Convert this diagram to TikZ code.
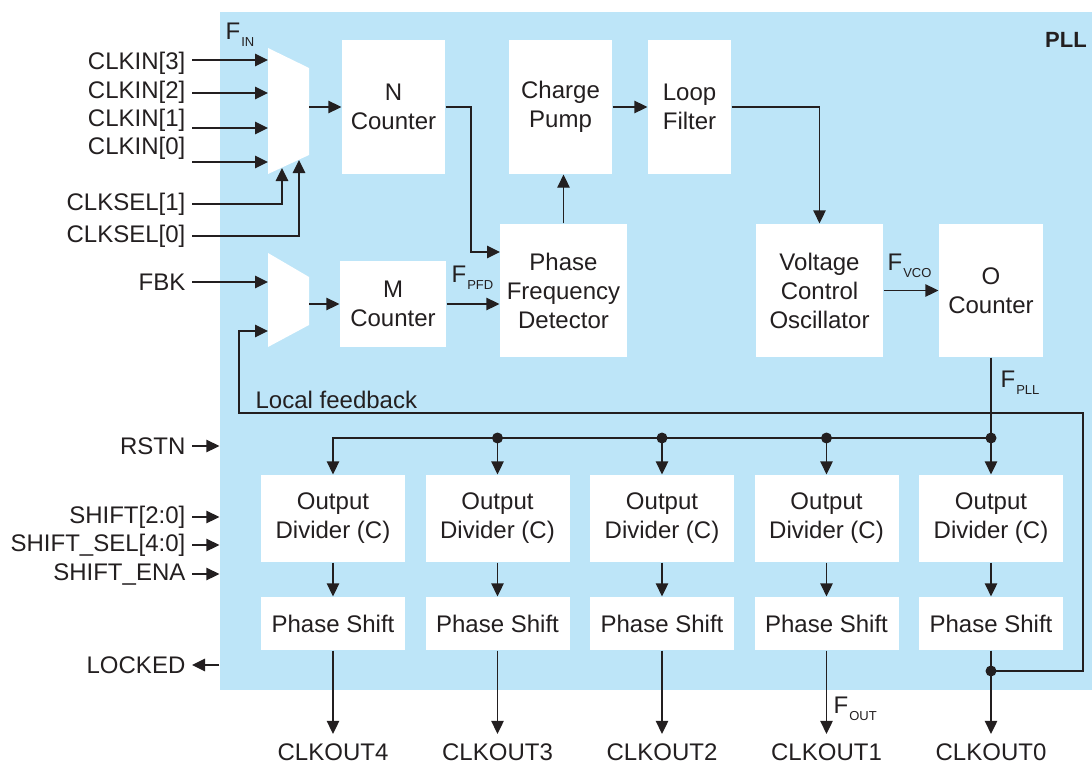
\documentclass[tikz,border=0pt]{standalone}
\usepackage{fontspec}
\setmainfont{Liberation Sans}
\usetikzlibrary{arrows.meta}
\definecolor{pllbg}{RGB}{189,229,248}
\definecolor{ink}{RGB}{35,31,32}
\newcommand{\lbl}{\fontsize{24}{29}\selectfont}
\newcommand{\freq}[1]{F\hspace{1pt}\raisebox{-7pt}{\fontsize{13}{13}\selectfont #1}}

\begin{document}
\begin{tikzpicture}[x=1pt,y=-1pt,line width=1.3pt,color=ink,font=\lbl,
    blk/.style={fill=white,inner sep=0pt,align=center},
    sig/.style={-{Triangle[length=13pt,width=12.5pt]}},
    pin/.style={anchor=east,inner xsep=6pt,inner ysep=0pt}]
        \useasboundingbox (0,0) rectangle (1092,765);

        % PLL block
        \node[fill=pllbg,inner sep=0pt,minimum width=872pt,minimum height=678pt] (pll) at (656,351) {};
        \node[font=\fontsize{22}{22}\selectfont\bfseries] at (1066,40) {PLL};

        % muxes
        \fill[white] (268,48) -- (309,68) -- (309,155) -- (268,174) -- cycle;
        \fill[white] (268,253) -- (309,277) -- (309,325) -- (268,347) -- cycle;
        \coordinate (mi3) at (268,60);
        \coordinate (mi2) at (268,93);
        \coordinate (mi1) at (268,128);
        \coordinate (mi0) at (268,162);
        \coordinate (ms1) at (282,168);
        \coordinate (ms0) at (299,160);
        \coordinate (mo1) at (309,107);
        \coordinate (m2a) at (268,282);
        \coordinate (m2b) at (268,331);
        \coordinate (mo2) at (309,304);

        % blocks
        \node[blk,minimum width=103pt,minimum height=134pt] (ncnt) at (393.5,107) {N\\Counter};
        \node[blk,minimum width=106pt,minimum height=86pt] (mcnt) at (393,304) {M\\Counter};
        \node[blk,minimum width=103pt,minimum height=134pt] (cp) at (560.5,107) {Charge\\Pump};
        \node[blk,minimum width=83pt,minimum height=134pt] (lf) at (689.5,107) {Loop\\Filter};
        \node[blk,minimum width=127pt,minimum height=133pt] (pfd) at (563.5,290.5) {Phase\\Frequency\\Detector};
        \node[blk,minimum width=127pt,minimum height=133pt] (vco) at (819.5,290.5) {Voltage\\Control\\Oscillator};
        \node[blk,minimum width=104pt,minimum height=133pt] (ocnt) at (991,290.5) {O\\Counter};

        % inputs
        \node[pin] (ck3) at (192,63) {CLKIN[3]};
        \node[pin] (ck2) at (192,92) {CLKIN[2]};
        \node[pin] (ck1) at (192,120) {CLKIN[1]};
        \node[pin] (ck0) at (192,148) {CLKIN[0]};
        \node[pin] (cs1) at (192,204) {CLKSEL[1]};
        \node[pin] (cs0) at (192,236) {CLKSEL[0]};
        \node[pin] (fbk) at (192,282) {FBK};
        \foreach \k in {0,...,3} { \draw[sig] (ck\k.east |- mi\k) -- (mi\k); }
        \draw[sig] (cs1.east) -| (ms1);
        \draw[sig] (cs0.east) -| (ms0);
        \draw[sig] (fbk) -- (m2a);

        % loop
        \coordinate (nbend) at (471,107);
        \coordinate (pfdn) at (500,252);
        \draw[sig] (mo1) -- (ncnt);
        \draw[sig] (mo2) -- (mcnt);
        \draw[sig] (ncnt) -- (nbend) |- (pfdn);
        \draw[sig] (mcnt) -- (mcnt -| pfd.west);
        \draw[sig] (pfd.north) -- (pfd.north |- cp.south);
        \draw[sig] (cp) -- (lf);
        \draw[sig] (lf) -| (vco);
        \draw[sig] (vco) -- (ocnt);

        % frequencies
        \node[anchor=base west,inner sep=0pt] at (225,40) {\freq{IN}};
        \node[anchor=base west,inner sep=0pt] at (451,282) {\freq{PFD}};
        \node[anchor=base west,inner sep=0pt] at (887,270) {\freq{VCO}};
        \node[anchor=base west,inner sep=0pt] at (1000,387) {\freq{PLL}};
        \node[anchor=base west,inner sep=0pt] at (833,713) {\freq{OUT}};

        % output columns
        \foreach \i/\k in {0/4,1/3,2/2,3/1,4/0} {
            \node[blk,minimum width=144pt,minimum height=87pt] (od\k) at (333+164.5*\i,518.5) {Output\\Divider (C)};
            \node[blk,minimum width=144pt,minimum height=53pt] (ps\k) at (333+164.5*\i,623.5) {Phase Shift};
            \node[inner ysep=9pt] (out\k) at (333+164.5*\i,752) {CLKOUT\k};
            \draw[sig] (od\k) -- (ps\k);
            \draw[sig] (ps\k) -- (out\k);
        }

        % distribution
        \coordinate (tap0) at (991,438);
        \draw (ocnt) -- (tap0);
        \draw[sig] (tap0) -- (od0);
        \draw[sig] (tap0) -| (od4);
        \foreach \k in {1,2,3} {
            \fill (od\k.north |- tap0) circle (5.5pt);
            \draw[sig] (od\k.north |- tap0) -- (od\k);
        }
        \fill (tap0) circle (5.5pt);

        % local feedback
        \coordinate (fbtap) at (991,671);
        \coordinate (fbR) at (1083,413);
        \coordinate (fbL) at (239,413);
        \draw[sig] (fbtap) -| (fbR) -- (fbL) |- (m2b);
        \fill (fbtap) circle (5.5pt);
        \node[anchor=west,inner sep=0pt] (lfb) at (255,400) {Local feedback};

        % side signals
        \node[pin] (rstn) at (192,446) {RSTN};
        \node[pin] (sh) at (192,517) {SHIFT[2:0]};
        \node[pin] (shsel) at (192,545) {SHIFT\_SEL[4:0]};
        \node[pin] (shena) at (192,574) {SHIFT\_ENA};
        \node[pin] (lock) at (192,665) {LOCKED};
        \foreach \s in {rstn,sh,shsel,shena} { \draw[sig] (\s) -- (\s -| pll.west); }
        \draw[sig] (lock -| pll.west) -- (lock);
    \end{tikzpicture}
\end{document}
